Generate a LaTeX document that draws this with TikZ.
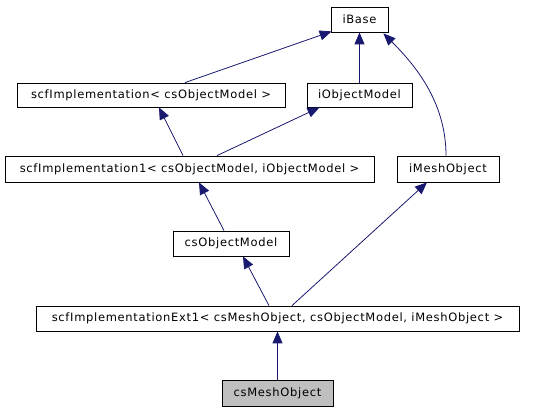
\documentclass[tikz,border=0pt]{standalone}
\usepackage{fontspec}
\setmainfont{DejaVu Sans}[LetterSpace=6]
\usetikzlibrary{arrows.meta}
\definecolor{edgecol}{HTML}{191970}
\definecolor{mainfill}{HTML}{BFBFBF}
\begin{document}
\begin{tikzpicture}[x=1pt,y=-1pt,
  cls/.style={draw=black,line width=0.8pt,fill=white,inner sep=0pt,font=\fontsize{11.5}{13}\selectfont},
  inh/.style={draw=edgecol,line width=0.8pt,-{Triangle[length=12pt,width=10pt]}}]
\useasboundingbox (0,0) rectangle (544,411);
\node[cls,minimum width=57pt,minimum height=25pt] (ibase) at (359.5,19.5) {iBase};
\node[cls,minimum width=268pt,minimum height=24pt] (scfimpl) at (151,95) {scfImplementation< csObjectModel >};
\node[cls,minimum width=105pt,minimum height=24pt] (iobjm) at (359.5,95) {iObjectModel};
\node[cls,minimum width=369pt,minimum height=26pt] (scfimpl1) at (189.5,169) {scfImplementation1< csObjectModel, iObjectModel >};
\node[cls,minimum width=102pt,minimum height=26pt] (imesh) at (448,169) {iMeshObject};
\node[cls,minimum width=116pt,minimum height=25pt] (csobjm) at (231,243.5) {csObjectModel};
\node[cls,minimum width=483pt,minimum height=25pt] (ext1) at (277.5,318.5) {scfImplementationExt1< csMeshObject, csObjectModel, iMeshObject >};
\node[cls,fill=mainfill,minimum width=111pt,minimum height=26pt] (csmesh) at (277.5,393) {csMeshObject};

\draw[inh] ([xshift=34pt]scfimpl.north) -- ([xshift=1pt,yshift=1pt]ibase.south west);
\draw[inh] (iobjm.north) -- (ibase.south);
\draw[inh] ([xshift=-2pt]imesh.north) .. controls +(0,-55) and +(30,30) .. ([xshift=-5pt,yshift=-1pt]ibase.south east);
\draw[inh] ([xshift=-6.5pt]scfimpl1.north) -- ([xshift=8pt]scfimpl.south);
\draw[inh] ([xshift=27.5pt]scfimpl1.north) -- ([xshift=-40pt]iobjm.south);
\draw[inh] ([xshift=-7pt]csobjm.north) -- ([xshift=9.5pt]scfimpl1.south);
\draw[inh] ([xshift=-8.5pt]ext1.north) -- ([xshift=12pt]csobjm.south);
\draw[inh] ([xshift=14.5pt]ext1.north) -- ([xshift=-21pt]imesh.south);
\draw[inh] (csmesh.north) -- (ext1.south);
\end{tikzpicture}
\end{document}
